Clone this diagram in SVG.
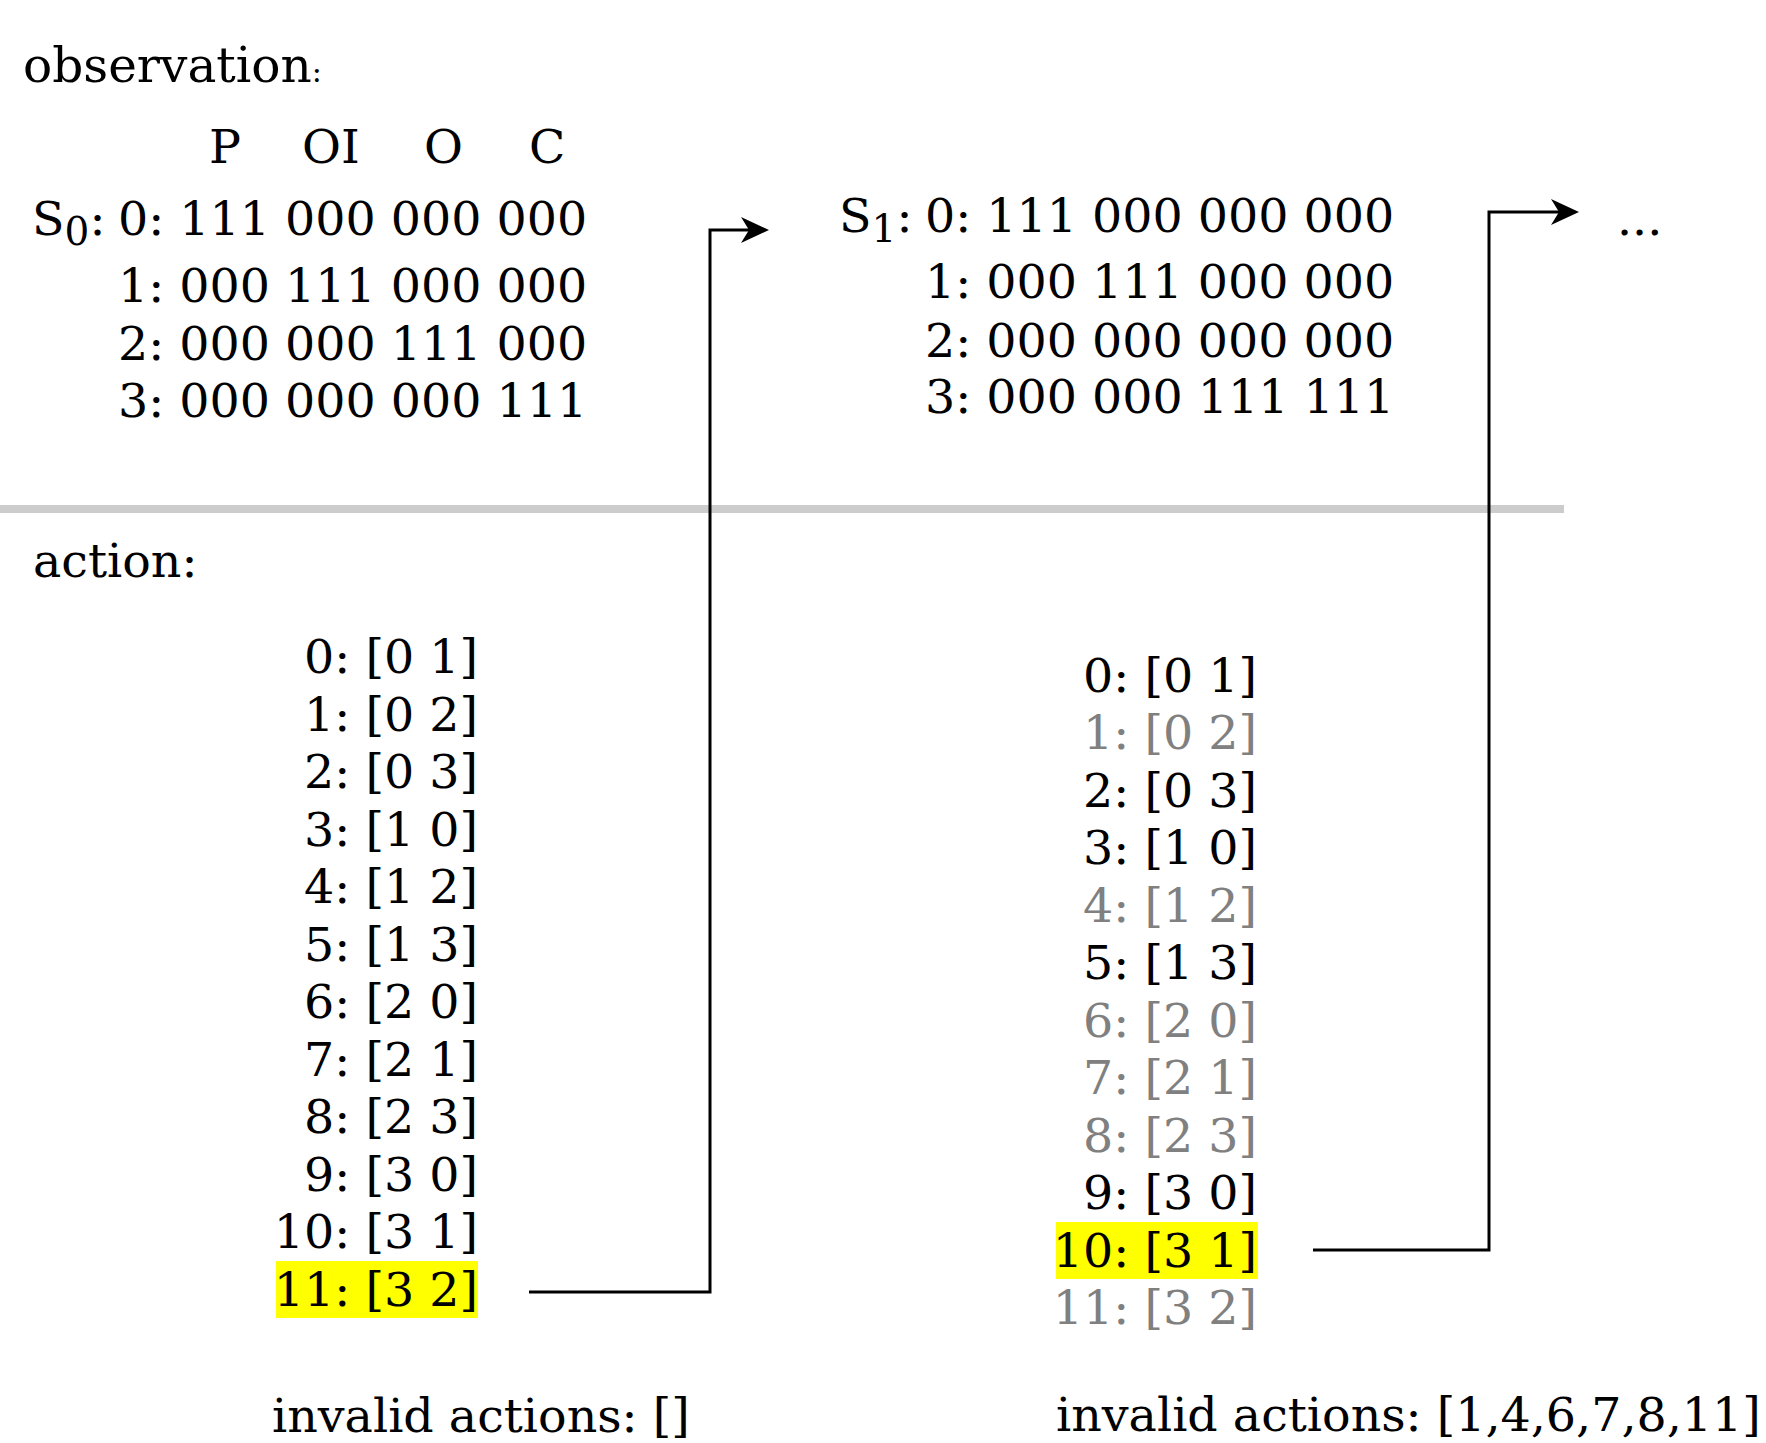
<svg xmlns="http://www.w3.org/2000/svg" width="1766" height="1443" viewBox="0 0 1766 1443">
<style>
text{font-family:"DejaVu Serif","Liberation Serif",serif;font-size:47.5px;fill:#000}
.g{fill:#808080}
.r{text-anchor:end}
.sub{font-size:39px}
.hl{fill:#ffff00}
.conn{fill:none;stroke:#000;stroke-width:3}
</style>
<defs>
<marker id="arr" markerUnits="userSpaceOnUse" markerWidth="30" markerHeight="28" refX="8" refY="13" orient="auto" viewBox="0 0 30 28">
<path d="M0,0 L28,13 L0,26 L8,13 Z" fill="#000"/>
</marker>
</defs>
<rect width="1766" height="1443" fill="#fff"/>
<g id="observation-label"><text x="23" y="82" style="font-size:48.5px">observation<tspan font-size="30">:</tspan></text></g>
<g id="header">
<text x="209" y="163">P</text>
<text x="302" y="163">OI</text>
<text x="424" y="163">O</text>
<text x="529" y="163">C</text>
</g>
<g id="state-s0">
<text x="32" y="235">S<tspan class="sub" dy="10">0</tspan><tspan dy="-10">:</tspan></text>
<text x="118" y="235">0: 111 000 000 000</text>
<text x="118" y="302">1: 000 111 000 000</text>
<text x="118" y="360">2: 000 000 111 000</text>
<text x="118" y="417">3: 000 000 000 111</text>
</g>
<g id="state-s1">
<text x="839" y="232">S<tspan class="sub" dy="10">1</tspan><tspan dy="-10">:</tspan></text>
<text x="925" y="232">0: 111 000 000 000</text>
<text x="925" y="298">1: 000 111 000 000</text>
<text x="925" y="357">2: 000 000 000 000</text>
<text x="925" y="413">3: 000 000 111 111</text>
</g>
<g id="ellipsis"><text x="1617" y="235">...</text></g>
<g id="separator"><rect x="0" y="505" width="1564" height="8" fill="#cccccc"/></g>
<g id="action-label"><text x="33" y="577">action:</text></g>
<g id="actions-s0">
<rect class="hl" x="276" y="1261" width="202" height="57"/>
<text class="r" x="478" y="673">0: [0 1]</text>
<text class="r" x="478" y="730.5">1: [0 2]</text>
<text class="r" x="478" y="788">2: [0 3]</text>
<text class="r" x="478" y="845.5">3: [1 0]</text>
<text class="r" x="478" y="903">4: [1 2]</text>
<text class="r" x="478" y="960.5">5: [1 3]</text>
<text class="r" x="478" y="1018">6: [2 0]</text>
<text class="r" x="478" y="1075.5">7: [2 1]</text>
<text class="r" x="478" y="1133">8: [2 3]</text>
<text class="r" x="478" y="1190.5">9: [3 0]</text>
<text class="r" x="478" y="1248">10: [3 1]</text>
<text class="r" x="478" y="1305.5">11: [3 2]</text>
</g>
<g id="actions-s1">
<rect class="hl" x="1056" y="1222" width="202" height="57"/>
<text class="r" x="1257" y="691.5">0: [0 1]</text>
<text class="r g" x="1257" y="749">1: [0 2]</text>
<text class="r" x="1257" y="806.5">2: [0 3]</text>
<text class="r" x="1257" y="864">3: [1 0]</text>
<text class="r g" x="1257" y="921.5">4: [1 2]</text>
<text class="r" x="1257" y="979">5: [1 3]</text>
<text class="r g" x="1257" y="1036.5">6: [2 0]</text>
<text class="r g" x="1257" y="1094">7: [2 1]</text>
<text class="r g" x="1257" y="1151.5">8: [2 3]</text>
<text class="r" x="1257" y="1209">9: [3 0]</text>
<text class="r" x="1257" y="1266.5">10: [3 1]</text>
<text class="r g" x="1257" y="1324">11: [3 2]</text>
</g>
<g id="invalid-s0"><text x="272" y="1432">invalid actions: []</text></g>
<g id="invalid-s1"><text x="1056" y="1431">invalid actions: [1,4,6,7,8,11]</text></g>
<g id="connectors">
<polyline class="conn" points="529,1292 710,1292 710,230 749,230" marker-end="url(#arr)"/>
<polyline class="conn" points="1313,1250 1489,1250 1489,212 1559,212" marker-end="url(#arr)"/>
</g>
</svg>
